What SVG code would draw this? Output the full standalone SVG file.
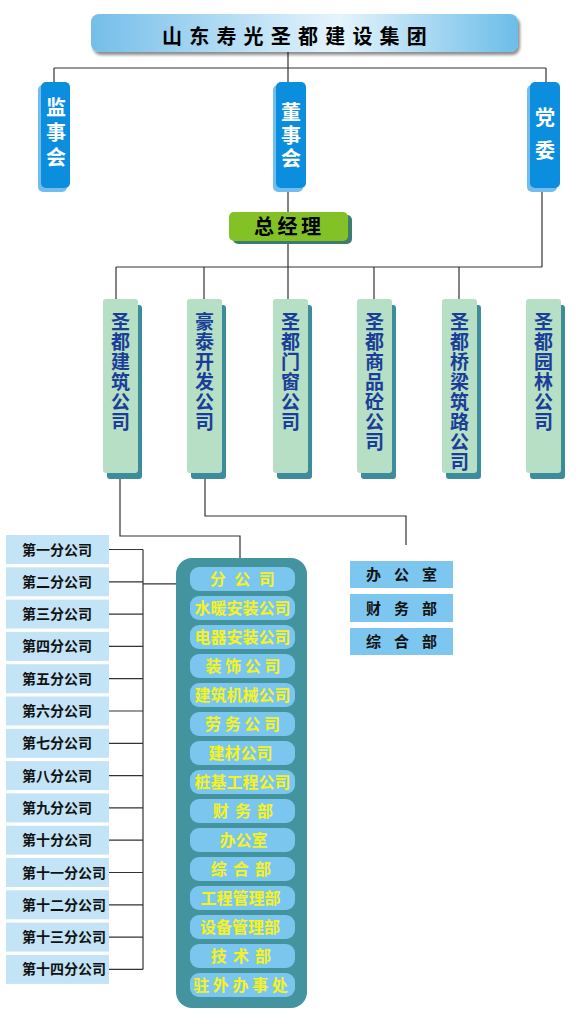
<svg xmlns="http://www.w3.org/2000/svg" width="576" height="1010" viewBox="0 0 576 1010">
<defs>
<linearGradient id="tg" x1="0" y1="0" x2="1" y2="0">
<stop offset="0" stop-color="#74bee9"/>
<stop offset="0.58" stop-color="#e6f4fc"/>
<stop offset="1" stop-color="#6cbde9"/>
</linearGradient>
<filter id="sh" x="-5%" y="-20%" width="110%" height="160%">
<feGaussianBlur in="SourceAlpha" stdDeviation="1.5"/>
<feOffset dx="2" dy="3"/>
<feComponentTransfer><feFuncA type="linear" slope="0.45"/></feComponentTransfer>
<feMerge><feMergeNode/><feMergeNode in="SourceGraphic"/></feMerge>
</filter>
</defs>
<style>
.ln{stroke:#333;stroke-width:1.2;fill:none}
.cjk{font-family:"Noto Sans CJK SC","Noto Sans CJK JP",sans-serif;font-weight:bold}
.v{writing-mode:vertical-rl;text-orientation:upright}
.b1{fill:#0c8ede}.b1s{fill:#72bdec}
.t1{fill:#fff;font-size:20px}
.b2{fill:#b6dfc6}.b2s{fill:#3d8c9c}
.t2{fill:#1a3e98;font-size:19px;letter-spacing:1px}
.lb{fill:#c2e4f6}
.lt{fill:#111;font-size:14px}
.rb{fill:#7cc6ef}
.rt{fill:#111;font-size:15px;text-anchor:middle;letter-spacing:4.8px}
.pl{fill:#7ac6ee}
.pt{fill:#f6f21e;font-size:16px;text-anchor:middle}
</style>
<rect width="576" height="1010" fill="#fff"/>

<g id="connectors">
<path class="ln" d="M288 52V68M54 68H546M54 68V82M288 68V82M546 68V82"/>
<path class="ln" d="M288 192V212M288 242V267M542 192V267M116 267H542M116 267V299M204 267V299M288 267V299M374 267V299M459 267V299"/>
<path class="ln" d="M120 478V536H240V558"/>
<path class="ln" d="M205 478V516H406V545"/>
<path class="ln" d="M143 549.5V969.4M143 583.8H176"/>
<path class="ln" d="M109 549.5H143M109 581.8H143M109 614.1H143M109 646.4H143M109 678.7H143M109 711H143M109 743.3H143M109 775.6H143M109 807.9H143M109 840.2H143M109 872.5H143M109 904.8H143M109 937.1H143M109 969.4H143"/>
</g>

<g id="title">
<rect x="91" y="14" width="427" height="38" rx="8" fill="url(#tg)" filter="url(#sh)"/>
<text class="cjk" x="162" y="44" font-size="20" letter-spacing="7.2" fill="#000">山东寿光圣都建设集团</text>
</g>

<g id="jianshihui">
<rect class="b1s" x="38" y="85" width="29" height="107" rx="5"/>
<rect class="b1" x="41" y="82" width="29" height="106" rx="5"/>
<text class="cjk t1 v" x="56" y="97" letter-spacing="5">监事会</text>
</g>
<g id="dongshihui">
<rect class="b1s" x="273" y="85" width="30" height="107" rx="5"/>
<rect class="b1" x="276" y="82" width="30" height="106" rx="5"/>
<text class="cjk t1 v" x="291" y="102" letter-spacing="3">董事会</text>
</g>
<g id="dangwei">
<rect class="b1s" x="527" y="85" width="30" height="107" rx="5"/>
<rect class="b1" x="530" y="82" width="30" height="106" rx="5"/>
<text class="cjk t1 v" x="545" y="107" letter-spacing="13">党委</text>
</g>

<g id="zongjingli">
<rect x="233" y="215" width="119" height="29" rx="5" fill="#3e7c70"/>
<rect x="229" y="212" width="119" height="29" rx="5" fill="#82c226"/>
<text class="cjk" x="254" y="234" font-size="20" letter-spacing="3.5" fill="#000">总经理</text>
</g>

<g id="c1">
<rect class="b2s" x="107" y="305" width="35" height="174" rx="3"/>
<rect class="b2" x="103" y="299" width="35" height="174" rx="3"/>
<text class="cjk t2 v" x="120.5" y="312.5">圣都建筑公司</text>
</g>
<g id="c2">
<rect class="b2s" x="191" y="305" width="35" height="174" rx="3"/>
<rect class="b2" x="187" y="299" width="35" height="174" rx="3"/>
<text class="cjk t2 v" x="204.5" y="312.5">豪泰开发公司</text>
</g>
<g id="c3">
<rect class="b2s" x="277" y="305" width="35" height="174" rx="3"/>
<rect class="b2" x="273" y="299" width="35" height="174" rx="3"/>
<text class="cjk t2 v" x="290.5" y="312.5">圣都门窗公司</text>
</g>
<g id="c4">
<rect class="b2s" x="361" y="305" width="35" height="174" rx="3"/>
<rect class="b2" x="357" y="299" width="35" height="174" rx="3"/>
<text class="cjk t2 v" x="374.5" y="312.5">圣都商品砼公司</text>
</g>
<g id="c5">
<rect class="b2s" x="446" y="305" width="35" height="174" rx="3"/>
<rect class="b2" x="442" y="299" width="35" height="174" rx="3"/>
<text class="cjk t2 v" x="459.5" y="312.5">圣都桥梁筑路公司</text>
</g>
<g id="c6">
<rect class="b2s" x="530" y="305" width="35" height="174" rx="3"/>
<rect class="b2" x="526" y="299" width="35" height="174" rx="3"/>
<text class="cjk t2 v" x="543.5" y="312.5">圣都园林公司</text>
</g>

<g id="branches">
<rect class="lb" x="6" y="535" width="103" height="29"/><text class="cjk lt" x="22" y="554.5">第一分公司</text>
<rect class="lb" x="6" y="567.3" width="103" height="29"/><text class="cjk lt" x="22" y="586.8">第二分公司</text>
<rect class="lb" x="6" y="599.6" width="103" height="29"/><text class="cjk lt" x="22" y="619.1">第三分公司</text>
<rect class="lb" x="6" y="631.9" width="103" height="29"/><text class="cjk lt" x="22" y="651.4">第四分公司</text>
<rect class="lb" x="6" y="664.2" width="103" height="29"/><text class="cjk lt" x="22" y="683.7">第五分公司</text>
<rect class="lb" x="6" y="696.5" width="103" height="29"/><text class="cjk lt" x="22" y="716">第六分公司</text>
<rect class="lb" x="6" y="728.8" width="103" height="29"/><text class="cjk lt" x="22" y="748.3">第七分公司</text>
<rect class="lb" x="6" y="761.1" width="103" height="29"/><text class="cjk lt" x="22" y="780.6">第八分公司</text>
<rect class="lb" x="6" y="793.4" width="103" height="29"/><text class="cjk lt" x="22" y="812.9">第九分公司</text>
<rect class="lb" x="6" y="825.7" width="103" height="29"/><text class="cjk lt" x="22" y="845.2">第十分公司</text>
<rect class="lb" x="6" y="858" width="103" height="29"/><text class="cjk lt" x="22" y="877.5">第十一分公司</text>
<rect class="lb" x="6" y="890.3" width="103" height="29"/><text class="cjk lt" x="22" y="909.8">第十二分公司</text>
<rect class="lb" x="6" y="922.6" width="103" height="29"/><text class="cjk lt" x="22" y="942.1">第十三分公司</text>
<rect class="lb" x="6" y="954.9" width="103" height="29"/><text class="cjk lt" x="22" y="974.4">第十四分公司</text>
</g>

<g id="offices">
<rect class="rb" x="350" y="561" width="103" height="27"/><text class="cjk rt" x="404" y="580">办 公 室</text>
<rect class="rb" x="350" y="594" width="103" height="28"/><text class="cjk rt" x="404" y="613.5">财 务 部</text>
<rect class="rb" x="350" y="628" width="103" height="27"/><text class="cjk rt" x="404" y="647">综 合 部</text>
</g>

<g id="panel">
<rect x="176" y="558" width="131" height="450" rx="16" fill="#4494a0"/>
<rect class="pl" x="190" y="567" width="105" height="24" rx="9"/><text class="cjk pt" x="243.5" y="584.5" letter-spacing="2.4">分 公 司</text>
<rect class="pl" x="190" y="596" width="105" height="24" rx="9"/><text class="cjk pt" x="242.5" y="613.5">水暖安装公司</text>
<rect class="pl" x="190" y="625" width="105" height="24" rx="9"/><text class="cjk pt" x="242.5" y="642.5">电器安装公司</text>
<rect class="pl" x="190" y="654" width="105" height="24" rx="9"/><text class="cjk pt" x="243" y="671.5">装 饰 公 司</text>
<rect class="pl" x="190" y="683" width="105" height="24" rx="9"/><text class="cjk pt" x="242.5" y="700.5">建筑机械公司</text>
<rect class="pl" x="190" y="712" width="105" height="24" rx="9"/><text class="cjk pt" x="242.5" y="729.5">劳 务 公 司</text>
<rect class="pl" x="190" y="741" width="105" height="24" rx="9"/><text class="cjk pt" x="240.5" y="758.5">建材公司</text>
<rect class="pl" x="190" y="770" width="105" height="24" rx="9"/><text class="cjk pt" x="242.5" y="787.5">桩基工程公司</text>
<rect class="pl" x="190" y="799" width="105" height="24" rx="9"/><text class="cjk pt" x="243.5" y="816.5" letter-spacing="1.2">财 务 部</text>
<rect class="pl" x="190" y="828" width="105" height="24" rx="9"/><text class="cjk pt" x="243.5" y="845.5">办公室</text>
<rect class="pl" x="190" y="857" width="105" height="24" rx="9"/><text class="cjk pt" x="241.5" y="874.5" letter-spacing="1.2">综 合 部</text>
<rect class="pl" x="190" y="886" width="105" height="24" rx="9"/><text class="cjk pt" x="240.5" y="903.5">工程管理部</text>
<rect class="pl" x="190" y="915" width="105" height="24" rx="9"/><text class="cjk pt" x="240" y="932.5">设备管理部</text>
<rect class="pl" x="190" y="944" width="105" height="24" rx="9"/><text class="cjk pt" x="241.5" y="961.5" letter-spacing="1.2">技 术 部</text>
<rect class="pl" x="190" y="973" width="105" height="24" rx="9"/><text class="cjk pt" x="240.5" y="990.5">驻 外 办 事 处</text>
</g>
</svg>
